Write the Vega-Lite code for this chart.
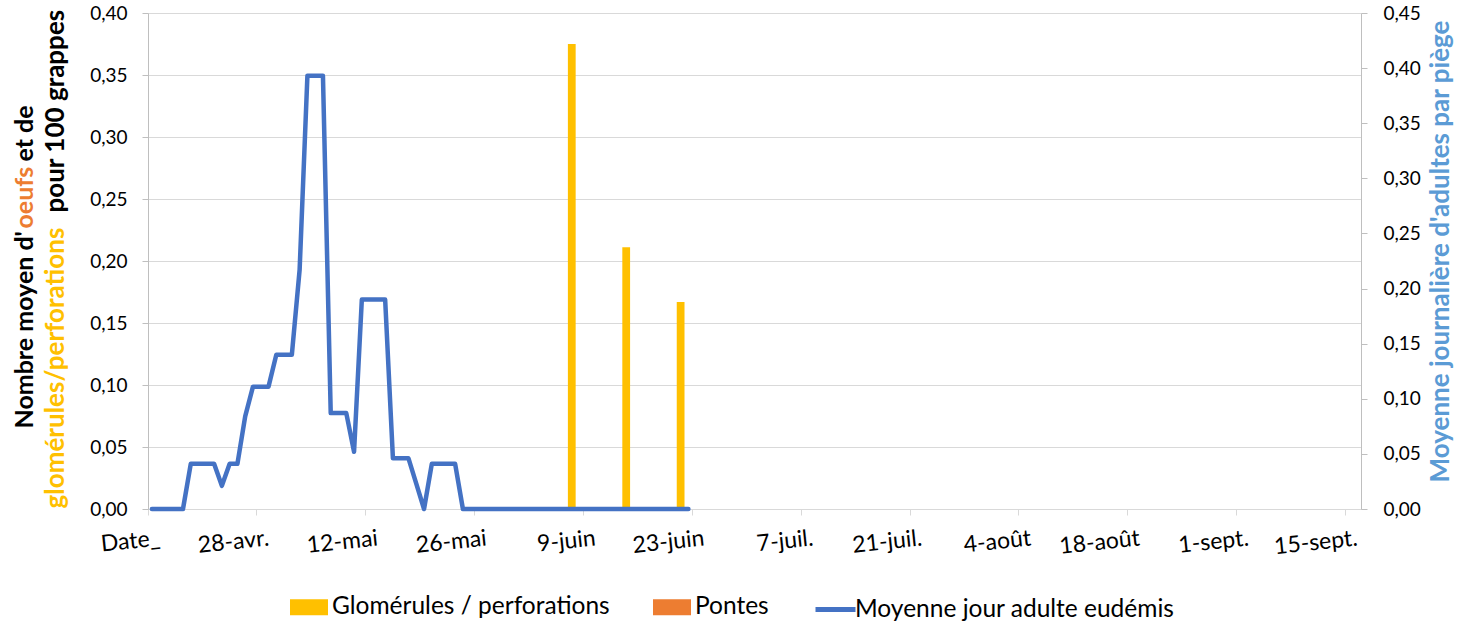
{
  "$schema": "https://vega.github.io/schema/vega-lite/v6.json",
  "width": 1213,
  "height": 496,
  "autosize": {"type": "none"},
  "padding": {"left": 148, "top": 13, "right": 114, "bottom": 115},
  "background": "white",
  "config": {
    "font": "Lato",
    "view": {"stroke": null},
    "axis": {"labelFont": "Lato", "titleFont": "Lato", "labelColor": "#000000"},
    "legend": {"labelFont": "Lato", "labelColor": "#000000", "labelLimit": 0}
  },
  "data": {
    "values": [
      {"date": "Date_", "adultes": 0},
      {"date": "15-avr.", "adultes": 0},
      {"date": "16-avr.", "adultes": 0},
      {"date": "17-avr.", "adultes": 0},
      {"date": "18-avr.", "adultes": 0},
      {"date": "19-avr.", "adultes": 0.041},
      {"date": "20-avr.", "adultes": 0.041},
      {"date": "21-avr.", "adultes": 0.041},
      {"date": "22-avr.", "adultes": 0.041},
      {"date": "23-avr.", "adultes": 0.021},
      {"date": "24-avr.", "adultes": 0.041},
      {"date": "25-avr.", "adultes": 0.041},
      {"date": "26-avr.", "adultes": 0.084},
      {"date": "27-avr.", "adultes": 0.111},
      {"date": "28-avr.", "adultes": 0.111},
      {"date": "29-avr.", "adultes": 0.111},
      {"date": "30-avr.", "adultes": 0.14},
      {"date": "1-mai", "adultes": 0.14},
      {"date": "2-mai", "adultes": 0.14},
      {"date": "3-mai", "adultes": 0.217},
      {"date": "4-mai", "adultes": 0.393},
      {"date": "5-mai", "adultes": 0.393},
      {"date": "6-mai", "adultes": 0.393},
      {"date": "7-mai", "adultes": 0.087},
      {"date": "8-mai", "adultes": 0.087},
      {"date": "9-mai", "adultes": 0.087},
      {"date": "10-mai", "adultes": 0.052},
      {"date": "11-mai", "adultes": 0.19},
      {"date": "12-mai", "adultes": 0.19},
      {"date": "13-mai", "adultes": 0.19},
      {"date": "14-mai", "adultes": 0.19},
      {"date": "15-mai", "adultes": 0.046},
      {"date": "16-mai", "adultes": 0.046},
      {"date": "17-mai", "adultes": 0.046},
      {"date": "18-mai", "adultes": 0.023},
      {"date": "19-mai", "adultes": 0},
      {"date": "20-mai", "adultes": 0.041},
      {"date": "21-mai", "adultes": 0.041},
      {"date": "22-mai", "adultes": 0.041},
      {"date": "23-mai", "adultes": 0.041},
      {"date": "24-mai", "adultes": 0},
      {"date": "25-mai", "adultes": 0},
      {"date": "26-mai", "adultes": 0},
      {"date": "27-mai", "adultes": 0},
      {"date": "28-mai", "adultes": 0},
      {"date": "29-mai", "adultes": 0},
      {"date": "30-mai", "adultes": 0},
      {"date": "31-mai", "adultes": 0},
      {"date": "1-juin", "adultes": 0},
      {"date": "2-juin", "adultes": 0},
      {"date": "3-juin", "adultes": 0},
      {"date": "4-juin", "adultes": 0},
      {"date": "5-juin", "adultes": 0},
      {"date": "6-juin", "adultes": 0},
      {"date": "7-juin", "adultes": 0, "glom": 0.375, "pontes": 0},
      {"date": "8-juin", "adultes": 0},
      {"date": "9-juin", "adultes": 0},
      {"date": "10-juin", "adultes": 0},
      {"date": "11-juin", "adultes": 0},
      {"date": "12-juin", "adultes": 0},
      {"date": "13-juin", "adultes": 0},
      {"date": "14-juin", "adultes": 0, "glom": 0.211, "pontes": 0},
      {"date": "15-juin", "adultes": 0},
      {"date": "16-juin", "adultes": 0},
      {"date": "17-juin", "adultes": 0},
      {"date": "18-juin", "adultes": 0},
      {"date": "19-juin", "adultes": 0},
      {"date": "20-juin", "adultes": 0},
      {"date": "21-juin", "adultes": 0, "glom": 0.167, "pontes": 0},
      {"date": "22-juin", "adultes": 0}
    ]
  },
  "encoding": {
    "x": {
      "field": "date",
      "type": "nominal",
      "scale": {
        "type": "band",
        "paddingInner": 0,
        "paddingOuter": 0,
        "domain": ["Date_",
          "15-avr.","16-avr.","17-avr.","18-avr.","19-avr.","20-avr.","21-avr.","22-avr.","23-avr.","24-avr.","25-avr.","26-avr.","27-avr.","28-avr.","29-avr.","30-avr.",
          "1-mai","2-mai","3-mai","4-mai","5-mai","6-mai","7-mai","8-mai","9-mai","10-mai","11-mai","12-mai","13-mai","14-mai","15-mai","16-mai","17-mai","18-mai","19-mai","20-mai","21-mai","22-mai","23-mai","24-mai","25-mai","26-mai","27-mai","28-mai","29-mai","30-mai","31-mai",
          "1-juin","2-juin","3-juin","4-juin","5-juin","6-juin","7-juin","8-juin","9-juin","10-juin","11-juin","12-juin","13-juin","14-juin","15-juin","16-juin","17-juin","18-juin","19-juin","20-juin","21-juin","22-juin","23-juin","24-juin","25-juin","26-juin","27-juin","28-juin","29-juin","30-juin",
          "1-juil.","2-juil.","3-juil.","4-juil.","5-juil.","6-juil.","7-juil.","8-juil.","9-juil.","10-juil.","11-juil.","12-juil.","13-juil.","14-juil.","15-juil.","16-juil.","17-juil.","18-juil.","19-juil.","20-juil.","21-juil.","22-juil.","23-juil.","24-juil.","25-juil.","26-juil.","27-juil.","28-juil.","29-juil.","30-juil.","31-juil.",
          "1-août","2-août","3-août","4-août","5-août","6-août","7-août","8-août","9-août","10-août","11-août","12-août","13-août","14-août","15-août","16-août","17-août","18-août","19-août","20-août","21-août","22-août","23-août","24-août","25-août","26-août","27-août","28-août","29-août","30-août","31-août",
          "1-sept.","2-sept.","3-sept.","4-sept.","5-sept.","6-sept.","7-sept.","8-sept.","9-sept.","10-sept.","11-sept.","12-sept.","13-sept.","14-sept.","15-sept.","16-sept."]
      },
      "axis": {
        "values": ["Date_","28-avr.","12-mai","26-mai","9-juin","23-juin","7-juil.","21-juil.","4-août","18-août","1-sept.","15-sept."],
        "bandPosition": 0,
        "title": null,
        "grid": false,
        "domainColor": "#d9d9d9",
        "domainWidth": 1,
        "tickColor": "#d9d9d9",
        "tickSize": 6,
        "labelAngle": -6,
        "labelAlign": "right",
        "labelBaseline": "top",
        "labelFontSize": 23,
        "labelPadding": 12,
        "labelOffset": 7,
        "labelOverlap": false
      }
    }
  },
  "layer": [
    {
      "mark": {"type": "bar"},
      "encoding": {
        "y": {
          "field": "glom",
          "type": "quantitative",
          "scale": {"domain": [0, 0.4], "nice": false},
          "axis": {
            "orient": "left",
            "values": [0, 0.05, 0.1, 0.15, 0.2, 0.25, 0.3, 0.35, 0.4],
            "labelExpr": "replace(format(datum.value, '.2f'), '.', ',')",
            "labelFontSize": 19,
            "labelPadding": 15,
            "grid": true,
            "gridColor": "#d9d9d9",
            "gridWidth": 1,
            "domainColor": "#bfbfbf",
            "tickColor": "#bfbfbf",
            "tickSize": 6,
            "title": "Nombre moyen d'",
            "titleColor": "#000000",
            "titleFontSize": 25,
            "titleFontWeight": "bold",
            "titleAngle": 270,
            "titleAlign": "left",
            "titleBaseline": "alphabetic",
            "titleX": -116,
            "titleY": 415
          }
        },
        "color": {
          "datum": "Glomérules / perforations",
          "type": "nominal",
          "scale": {"domain": ["Glomérules / perforations", "Pontes"], "range": ["#FFC000", "#ED7D31"]},
          "legend": {
            "orient": "none",
            "direction": "horizontal",
            "legendX": 142,
            "legendY": 575,
            "title": null,
            "padding": 0,
            "symbolType": "M-1,-0.42H1V0.42H-1Z",
            "symbolSize": 1444,
            "symbolStrokeWidth": 0,
            "symbolOpacity": 1,
            "labelFontSize": 24.5,
            "labelOffset": 4,
            "labelLimit": 0,
            "columnPadding": 43
          }
        }
      }
    },
    {
      "mark": {"type": "bar"},
      "encoding": {
        "y": {
          "field": "pontes",
          "type": "quantitative",
          "scale": {"domain": [0, 0.4], "nice": false},
          "axis": {
            "orient": "left",
            "labels": false,
            "ticks": false,
            "domain": false,
            "grid": false,
            "title": "oeufs",
            "titleColor": "#ED7D31",
            "titleFontSize": 25,
            "titleFontWeight": "bold",
            "titleAngle": 270,
            "titleAlign": "left",
            "titleBaseline": "alphabetic",
            "titleX": -116,
            "titleY": 215
          }
        },
        "color": {"datum": "Pontes", "type": "nominal"}
      }
    },
    {
      "mark": {"type": "line", "strokeWidth": 4.5, "strokeJoin": "round", "strokeCap": "round"},
      "encoding": {
        "y": {
          "field": "adultes",
          "type": "quantitative",
          "scale": {"domain": [0, 0.45], "nice": false},
          "axis": {
            "orient": "right",
            "values": [0, 0.05, 0.1, 0.15, 0.2, 0.25, 0.3, 0.35, 0.4, 0.45],
            "labelExpr": "replace(format(datum.value, '.2f'), '.', ',')",
            "labelFontSize": 19,
            "labelPadding": 16,
            "grid": false,
            "domainColor": "#bfbfbf",
            "tickColor": "#bfbfbf",
            "tickSize": 6,
            "title": "Moyenne journalière d'adultes par piège",
            "titleColor": "#5B9BD5",
            "titleFontSize": 26,
            "titleFontWeight": "bold",
            "titleAngle": 270,
            "titleAlign": "center",
            "titleBaseline": "alphabetic",
            "titleX": 87,
            "titleY": 238
          }
        },
        "stroke": {
          "datum": "Moyenne jour adulte eudémis",
          "type": "nominal",
          "scale": {"range": ["#4472C4"]},
          "legend": {
            "orient": "none",
            "direction": "horizontal",
            "legendX": 665,
            "legendY": 574,
            "title": null,
            "padding": 0,
            "symbolType": "stroke",
            "symbolSize": 1600,
            "symbolStrokeWidth": 5,
            "labelFontSize": 24.5,
            "labelOffset": -3,
            "labelLimit": 0
          }
        }
      }
    },
    {
      "mark": {"type": "bar", "opacity": 0},
      "encoding": {
        "y": {
          "field": "pontes",
          "type": "quantitative",
          "scale": {"domain": [0, 0.4], "nice": false},
          "axis": {
            "orient": "left",
            "labels": false,
            "ticks": false,
            "domain": false,
            "grid": false,
            "title": "et de",
            "titleColor": "#000000",
            "titleFontSize": 25,
            "titleFontWeight": "bold",
            "titleAngle": 270,
            "titleAlign": "left",
            "titleBaseline": "alphabetic",
            "titleX": -116,
            "titleY": 148
          }
        }
      }
    },
    {
      "mark": {"type": "bar", "opacity": 0},
      "encoding": {
        "y": {
          "field": "pontes",
          "type": "quantitative",
          "scale": {"domain": [0, 0.4], "nice": false},
          "axis": {
            "orient": "left",
            "labels": false,
            "ticks": false,
            "domain": false,
            "grid": false,
            "title": "glomérules/perforations",
            "titleColor": "#FFC000",
            "titleFontSize": 26,
            "titleFontWeight": "bold",
            "titleAngle": 270,
            "titleAlign": "left",
            "titleBaseline": "alphabetic",
            "titleX": -85,
            "titleY": 495
          }
        }
      }
    },
    {
      "mark": {"type": "bar", "opacity": 0},
      "encoding": {
        "y": {
          "field": "pontes",
          "type": "quantitative",
          "scale": {"domain": [0, 0.4], "nice": false},
          "axis": {
            "orient": "left",
            "labels": false,
            "ticks": false,
            "domain": false,
            "grid": false,
            "title": "pour 100 grappes",
            "titleColor": "#000000",
            "titleFontSize": 26,
            "titleFontWeight": "bold",
            "titleAngle": 270,
            "titleAlign": "left",
            "titleBaseline": "alphabetic",
            "titleX": -85,
            "titleY": 199
          }
        }
      }
    }
  ],
  "resolve": {"scale": {"y": "independent"}, "axis": {"y": "independent"}}
}
